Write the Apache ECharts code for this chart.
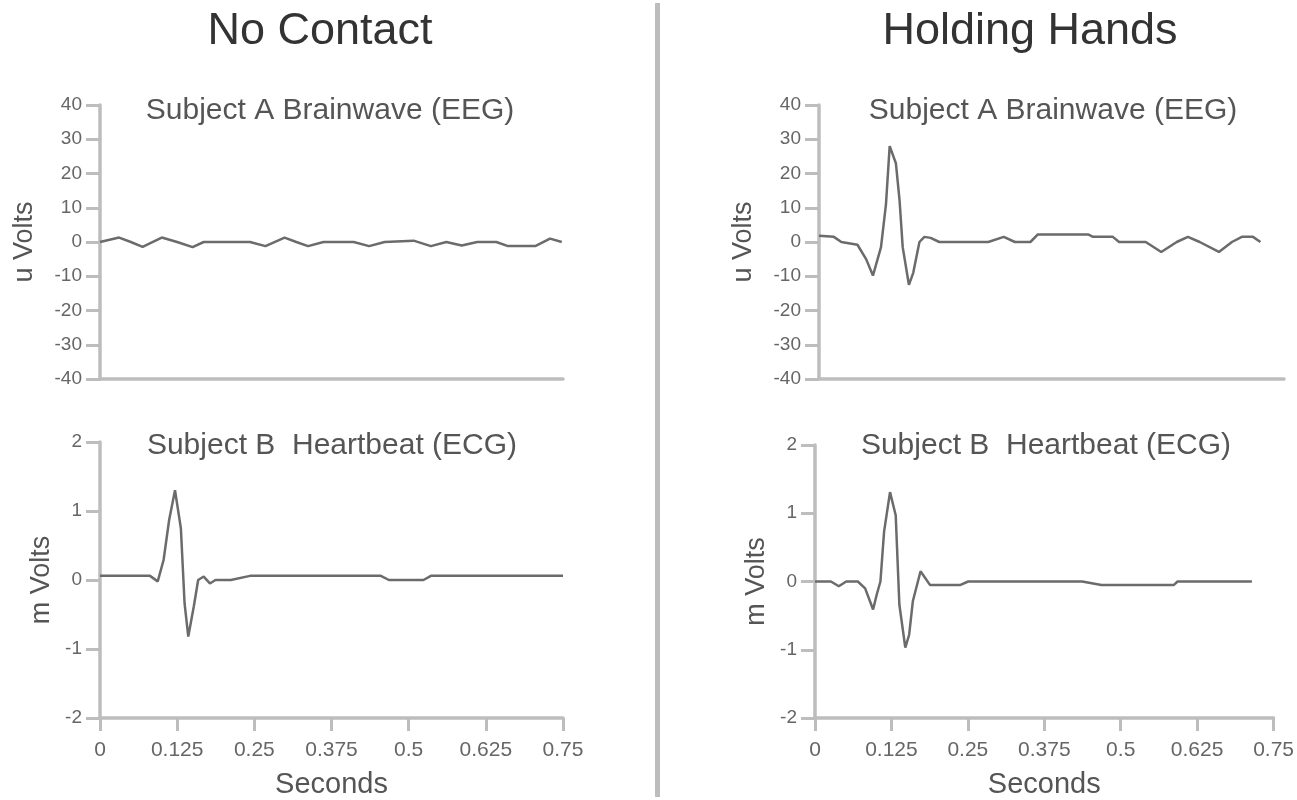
<!DOCTYPE html>
<html>
<head>
<meta charset="utf-8">
<script src="https://cdn.jsdelivr.net/npm/echarts@6/dist/echarts.min.js"></script>
<style>
html,body{margin:0;padding:0;background:#fff;}
#c{width:1297px;height:800px;}
</style>
</head>
<body>
<div id="c"></div>
<script>
// ---- tick labels ----
const xTickLabels = ['0', '0.125', '0.25', '0.375', '0.5', '0.625', '0.75'];
const xTickStep = 0.125;

// ---- No Contact: Subject A brainwave (EEG, uV) ----
const ncEegTime = [0, 0.031, 0.050, 0.069, 0.100, 0.125, 0.150, 0.168, 0.243, 0.268, 0.299, 0.318, 0.337, 0.362, 0.411, 0.436, 0.461, 0.508, 0.536, 0.561, 0.586, 0.611, 0.642, 0.661, 0.705, 0.729, 0.748];
const ncEegVal  = [0, 1.3, 0, -1.4, 1.3, 0, -1.5, 0, 0, -1.2, 1.3, 0, -1.2, 0, 0, -1.2, 0, 0.4, -1.2, 0, -1.0, 0, 0, -1.2, -1.2, 1.0, 0];

// ---- No Contact: Subject B heartbeat (ECG, mV) ----
const ncEcgTime = [0, 0.081, 0.0935, 0.103, 0.112, 0.1215, 0.131, 0.137, 0.143, 0.152, 0.159, 0.168, 0.178, 0.187, 0.212, 0.243, 0.455, 0.468, 0.524, 0.536, 0.75];
const ncEcgVal  = [0.06, 0.06, -0.02, 0.29, 0.87, 1.3, 0.75, -0.34, -0.82, -0.38, 0, 0.05, -0.05, 0, 0, 0.06, 0.06, 0, 0, 0.06, 0.06];

// ---- Holding Hands: Subject A brainwave (EEG, uV) ----
const hhEegTime = [0, 0.024, 0.036, 0.062, 0.076, 0.087, 0.100, 0.108, 0.114, 0.124, 0.130, 0.135, 0.145, 0.152, 0.162, 0.170, 0.180, 0.194, 0.273, 0.298, 0.316, 0.341, 0.353, 0.434, 0.442, 0.474, 0.484, 0.527, 0.552, 0.577, 0.595, 0.614, 0.645, 0.666, 0.682, 0.700, 0.712];
const hhEegVal  = [1.8, 1.5, 0, -0.8, -5, -9.8, -1.5, 11, 28, 23, 12, -1.5, -12.5, -9, 0, 1.5, 1.2, 0, 0, 1.5, 0, 0, 2.2, 2.2, 1.5, 1.5, 0, 0, -2.9, 0, 1.5, 0, -2.9, 0, 1.5, 1.5, 0];

// ---- Holding Hands: Subject B heartbeat (ECG, mV) ----
const hhEcgTime = [0, 0.026, 0.039, 0.051, 0.070, 0.082, 0.095, 0.101, 0.107, 0.113, 0.1227, 0.132, 0.138, 0.1477, 0.154, 0.160, 0.1726, 0.188, 0.238, 0.2505, 0.437, 0.4685, 0.587, 0.593, 0.7146];
const hhEcgVal  = [0, 0, -0.07, 0, 0, -0.1, -0.41, -0.19, 0, 0.73, 1.31, 0.97, -0.34, -0.97, -0.78, -0.29, 0.15, -0.05, -0.05, 0, 0, -0.05, -0.05, 0, 0];

// ---- texts ----
const panelTitles = ['No Contact', 'Holding Hands'];
const eegTitle = 'Subject A Brainwave (EEG)';
const ecgTitle = 'Subject B  Heartbeat (ECG)';
const eegUnit = 'u Volts';
const ecgUnit = 'm Volts';
const xName = 'Seconds';

function pairs(t, v) { return t.map((x, i) => [x, v[i]]); }

const FONT = '"Liberation Sans", Arial, sans-serif';
const axisGray = '#bdbdbd';
const lineGray = '#6b6b6b';

const grids = [
  { left: 100, top: 105, width: 463, height: 274 },
  { left: 100, top: 442, width: 463, height: 277 },
  { left: 819, top: 105, width: 465, height: 274 },
  { left: 815, top: 445, width: 463, height: 274 }
];

function xAxisTop(gi) {
  return {
    type: 'value', gridIndex: gi, min: 0, max: 0.75, interval: xTickStep,
    axisLine: { show: true, onZero: false, lineStyle: { color: axisGray, width: 3.5 } },
    axisTick: { show: false }, axisLabel: { show: false }, splitLine: { show: false }
  };
}
function xAxisBottom(gi) {
  return {
    type: 'value', gridIndex: gi, min: 0, max: 0.75, interval: xTickStep,
    name: xName, nameLocation: 'middle', nameGap: 52,
    nameTextStyle: { fontFamily: FONT, fontSize: 29, color: '#555' },
    axisLine: { show: true, onZero: false, lineStyle: { color: axisGray, width: 3.5 } },
    axisTick: { show: true, length: 13, lineStyle: { color: axisGray, width: 3 } },
    axisLabel: {
      fontFamily: FONT, fontSize: 21, color: '#666', margin: 22,
      formatter: v => xTickLabels[Math.round(v / xTickStep)]
    },
    splitLine: { show: false }
  };
}
function yAxis(gi, min, max, interval, name, gap) {
  return {
    type: 'value', gridIndex: gi, min: min, max: max, interval: interval,
    name: name, nameLocation: 'middle', nameRotate: 90, nameGap: gap,
    nameTextStyle: { fontFamily: FONT, fontSize: 27, color: '#555' },
    axisLine: { show: true, onZero: false, lineStyle: { color: axisGray, width: 3.5 } },
    axisTick: { show: true, length: 14, lineStyle: { color: axisGray, width: 3 } },
    axisLabel: { fontFamily: FONT, fontSize: 19, color: '#666', margin: 18 },
    splitLine: { show: false }
  };
}
function lineSeries(gi, data) {
  return {
    type: 'line', xAxisIndex: gi, yAxisIndex: gi, data: data,
    showSymbol: false, symbol: 'none', smooth: false, silent: true,
    lineStyle: { color: lineGray, width: 2.5 }
  };
}
function txt(x, y, text, size, color) {
  return {
    type: 'text', x: x, y: y, silent: true,
    style: { text: text, font: size + 'px ' + FONT, fill: color, align: 'center', verticalAlign: 'middle' }
  };
}

const chart = echarts.init(document.getElementById('c'), null, { renderer: 'canvas' });
chart.setOption({
  animation: false,
  backgroundColor: '#fff',
  grid: grids,
  xAxis: [xAxisTop(0), xAxisBottom(1), xAxisTop(2), xAxisBottom(3)],
  yAxis: [
    yAxis(0, -40, 40, 10, eegUnit, 62),
    yAxis(1, -2, 2, 1, ecgUnit, 45),
    yAxis(2, -40, 40, 10, eegUnit, 62),
    yAxis(3, -2, 2, 1, ecgUnit, 45)
  ],
  series: [
    lineSeries(0, pairs(ncEegTime, ncEegVal)),
    lineSeries(1, pairs(ncEcgTime, ncEcgVal)),
    lineSeries(2, pairs(hhEegTime, hhEegVal)),
    lineSeries(3, pairs(hhEcgTime, hhEcgVal))
  ],
  graphic: [
    { type: 'rect', silent: true, shape: { x: 655, y: 3, width: 5, height: 794 }, style: { fill: axisGray } },
    txt(320, 32, panelTitles[0], 45, '#333'),
    txt(1030, 32, panelTitles[1], 45, '#333'),
    txt(330, 111, eegTitle, 30, '#555'),
    txt(1053, 111, eegTitle, 30, '#555'),
    txt(332, 446, ecgTitle, 30, '#555'),
    txt(1046, 446, ecgTitle, 30, '#555')
  ]
});
</script>
</body>
</html>
